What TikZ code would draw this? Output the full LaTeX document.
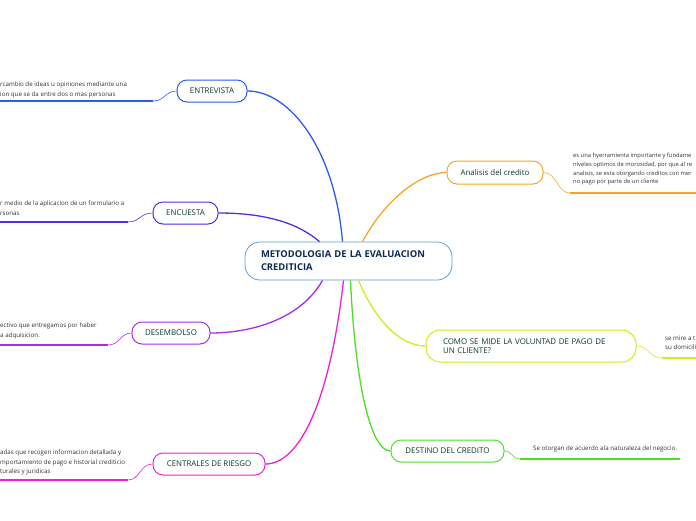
\documentclass[tikz,border=0pt]{standalone}
\usepackage{fontspec}
\setmainfont{Open Sans}
\usetikzlibrary{positioning, calc}

\definecolor{mainblue}{HTML}{5D9FD8}
\definecolor{navy}{HTML}{0B2A55}
\definecolor{titlegreen}{HTML}{0D3B2E}
\definecolor{leafgray}{HTML}{333333}
\definecolor{cblue}{HTML}{2A5CF5}
\definecolor{cindigo}{HTML}{4F2EE6}
\definecolor{cpurple}{HTML}{A52CF0}
\definecolor{cmagenta}{HTML}{F01FD6}
\definecolor{corange}{HTML}{F7A528}
\definecolor{clime}{HTML}{C9F21C}
\definecolor{cgreen}{HTML}{4BE024}

\begin{document}
\begin{tikzpicture}[x=1pt, y=-1pt]
        % Define styles
        \tikzstyle{topic} = [rectangle, rounded corners=10pt, draw, line width=1pt, fill=white, minimum height=22pt, text=titlegreen, font=\fontsize{7.9}{9.5}\selectfont]
        \tikzstyle{leaf} = [anchor=north west, inner sep=0pt, align=left, text=leafgray, font=\fontsize{6.2}{9.2}\selectfont]
        \tikzstyle{branch} = [line width=1.3pt]
        \tikzstyle{twig} = [line width=0.6pt]
        \tikzstyle{rule} = [line width=1.6pt]

        \path[use as bounding box, clip] (0,0) rectangle (696,520);

        % Central topic
        \node (main) [rectangle, rounded corners=15pt, draw=mainblue, line width=0.8pt, fill=white, minimum height=38pt, text width=175pt, inner xsep=16pt, align=left, text=navy, font=\bfseries\fontsize{9.4}{13}\selectfont] at (348.5,261) {METODOLOGIA DE LA EVALUACION\\CREDITICIA};

        % Left topics
        \node (ent) [topic, draw=cblue, minimum width=70pt] at (212,91) {ENTREVISTA};
        \node (enc) [topic, draw=cindigo, minimum width=65pt] at (185.5,213) {ENCUESTA};
        \node (des) [topic, draw=cpurple, minimum width=78pt] at (171,333) {DESEMBOLSO};
        \node (cen) [topic, draw=cmagenta, minimum width=112pt] at (209,464) {CENTRALES DE RIESGO};

        % Right topics
        \node (ana) [topic, draw=corange, minimum width=96pt, minimum height=23pt] at (495,172.5) {Analisis del credito};
        \node (como) [topic, draw=clime, minimum height=32pt, text width=176pt, inner xsep=17pt, align=left, rounded corners=14pt] at (531,346) {COMO SE MIDE LA VOLUNTAD DE PAGO DE\\UN CLIENTE?};
        \node (dest) [topic, draw=cgreen, minimum width=113pt] at (447.5,451) {DESTINO DEL CREDITO};

        % Leaf texts
        \node (entT) [leaf] at (0,82) {rcambio de ideas u opiniones mediante una\\ion que se da entre dos o mas personas};
        \node (encT) [leaf] at (0,201) {r medio de la aplicacion de un formulario a\\rsonas};
        \node (desT) [leaf] at (0,323) {ectivo que entregamos por haber\\a adquisicion.};
        \node (cenT) [leaf] at (0,450) {adas que recogen informacion detallada y\\mportamiento de pago e historial crediticio\\turales y juridicas};
        \node (anaT) [leaf, font=\fontsize{5.8}{8.7}\selectfont] at (573,153) {es una hyerramienta importante y fundame\\niveles optimos de morosidad, por que al re\\analisis, se esta otorgando creditos con mer\\no pago por parte de un cliente};
        \node (comoT) [leaf] at (665,336) {se mire a t\\su domicili};
        \node (destT) [leaf] at (533,446) {Se otorgan de acuerdo ala naturaleza del negocio.};

        % Underline ends
        \coordinate (entA) at (153,101);  \coordinate (entB) at (0,101);
        \coordinate (encA) at (128,222);  \coordinate (encB) at (0,222);
        \coordinate (desA) at (108,345);  \coordinate (desB) at (0,345);
        \coordinate (cenA) at (128,480);  \coordinate (cenB) at (0,480);
        \coordinate (anaA) at (570,193);  \coordinate (anaB) at (696,193);
        \coordinate (comoA) at (662,358); \coordinate (comoB) at (696,358);
        \coordinate (destA) at (520,459); \coordinate (destB) at (680,459);

        % Branches
        \draw [branch, cblue] ([xshift=-6pt]main.north) .. controls (335,150) and (290,91) .. (ent.east);
        \draw [branch, cindigo] (enc.east) .. controls (270,213) and (300,225) .. ([xshift=-29pt]main.north);
        \draw [branch, cpurple] ([xshift=-26pt]main.south) .. controls (300,320) and (250,333) .. (des.east);
        \draw [branch, cmagenta] ([xshift=-5pt]main.south) .. controls (330,400) and (300,464) .. (cen.east);
        \draw [branch, corange] ([xshift=14pt]main.north) .. controls (385,200) and (420,172.5) .. (ana.west);
        \draw [branch, clime] ([xshift=10pt]main.south) .. controls (375,320) and (400,346) .. (como.west);
        \draw [branch, cgreen] ([xshift=2pt]main.south) .. controls (355,380) and (370,451) .. (dest.west);

        % Twigs and rules
        \draw [twig, cblue] (ent.west) .. controls (165,91) and (165,101) .. (entA);
        \draw [rule, cblue] (entA) -- (entB);
        \draw [twig, cindigo] (enc.west) .. controls (140,213) and (140,222) .. (encA);
        \draw [rule, cindigo] (encA) -- (encB);
        \draw [twig, cpurple] (des.west) .. controls (120,333) and (120,345) .. (desA);
        \draw [rule, cpurple] (desA) -- (desB);
        \draw [twig, cmagenta] (cen.west) .. controls (140,464) and (140,480) .. (cenA);
        \draw [rule, cmagenta] (cenA) -- (cenB);
        \draw [twig, corange] (ana.east) .. controls (557,172.5) and (557,193) .. (anaA);
        \draw [rule, corange] (anaA) -- (anaB);
        \draw [twig, clime] (como.east) .. controls (649,346) and (649,358) .. (comoA);
        \draw [rule, clime] (comoA) -- (comoB);
        \draw [twig, cgreen] (dest.east) .. controls (512,451) and (512,459) .. (destA);
        \draw [rule, cgreen] (destA) -- (destB);
\end{tikzpicture}
\end{document}
